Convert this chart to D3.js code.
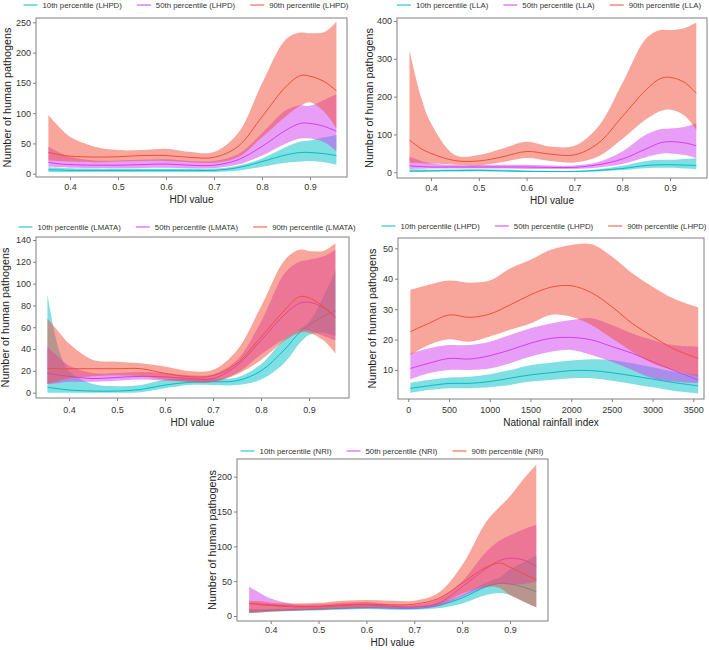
<!DOCTYPE html>
<html><head><meta charset="utf-8">
<script src="https://cdn.jsdelivr.net/npm/d3@7"></script>
<style>
body{margin:0;background:#fff}
svg{display:block}
text{font-family:"Liberation Sans",Arial,Helvetica,sans-serif}
</style>
</head><body>
<svg id="chart" width="709" height="650"></svg>
<script>
// ---------- DATA ----------
const hdiX = [0.355,0.38,0.40,0.45,0.50,0.55,0.60,0.65,0.70,0.75,0.80,0.85,0.88,0.90,0.93,0.955];
const rainX = [25,250,500,750,1000,1250,1500,1750,2000,2250,2500,2750,3000,3250,3560];

const hdiTicks = [0.4,0.5,0.6,0.7,0.8,0.9];
const rainTicks = [0,500,1000,1500,2000,2500,3000,3500];

// Panel A: LHPD vs HDI
const lhpdP10   = [6.6,6,5.5,5.5,5.5,5.5,5.5,5.5,5.5,10,20,31,35,35,33,30];
const lhpdP10Lo = [3,3,3,3,3,3,3,3,3,5,11.5,18,20,21,19,15];
const lhpdP10Hi = [10.5,9.5,9,8,8,8,8,8,8,13,25,44,53,55,60,64];
const lhpdP50   = [18.7,16,15,14,14,15,16,14,14,23,45,72,83,83,78,70];
const lhpdP50Lo = [11.5,10.5,10,9,9,9.5,10,9,9,15,30,50,58,58,52,37];
const lhpdP50Hi = [45,34,28,22,22,23,23.7,21,21,32,67,105,113,112,122,131];
const lhpdP90   = [35,31,29,27.5,28,30,30,27,27,45,94,144,162,161,152,137];
const lhpdP90Lo = [22,21,20,19,20,21,21,19,18,27,60,95,112,118,102,75];
const lhpdP90Hi = [97,75,61,45,39,39,41,36,36,67,149,222,233,232,234,251];
const lhpdYTicks = [0,50,100,150,200,250];

// Panel B: LLA vs HDI
const llaP10   = [3,3.5,4,4.5,5,4,2.5,2,2,5,10,18,20,20,19,18];
const llaP10Lo = [1,1,1.5,2,3,2,1,1,1,2,6,11,12,12,10,8];
const llaP10Hi = [8,7.5,7,7.5,8,7,5,4,4,8,17,30,33,33,35,37];
const llaP50   = [17,15,14,14,14,14,14,13,13,20,35,62,78,81,78,70];
const llaP50Lo = [9,9.5,10,10,10,10,9,9,9,13,22,40,49,50,46,38];
const llaP50Hi = [42,30,24,19,19,20,20,18,18,27,55,100,114,116,120,130];
const llaP90   = [85,62,50,31,30,41,55,48,46,77,147,218,248,251,238,209];
const llaP90Lo = [25,24,23,20,18,27,38,30,26,42,88,140,162,166,150,112];
const llaP90Hi = [323,195,130,46,46,63,81,68,70,121,235,354,376,376,381,396];
const llaYTicks = [0,100,200,300,400];

// Panel C: LMATA vs HDI
const lmataP10   = [5,3.5,2.5,1.5,1.5,3,7,9.5,10,11,20,40,55,62,70,75];
const lmataP10Lo = [0,0,0,0,0,0.5,4,7,7,7,12,28,45,53,55,52];
const lmataP10Hi = [90,38,20,8,6,7,12,13,13,14,26,50,58,65,88,112];
const lmataP50   = [18,16,15,13,14,15,14.5,13,13,25,48,72,82,83,78,69];
const lmataP50Lo = [8,9,10,10,11,12,11,10,10,18,35,50,57,57,52,48];
const lmataP50Hi = [42,32,25,18,18,19,18,16,17,30,65,110,120,122,125,131];
const lmataP90   = [22.3,22,22,22,22,22,17.7,14.7,15.6,27,51,76,88,87,79,69];
const lmataP90Lo = [8,11,13,15,16,15,12,10,10,17,30,48,55,55,48,36];
const lmataP90Hi = [68,55,45,30,28.4,27,24,20,21,39,79,122,131,130,130,137];
const lmataYTicks = [0,20,40,60,80,100,120,140];

// Panel D: LHPD vs National rainfall index
const rainP10   = [4,4.8,5.6,5.6,6.2,7.3,8.4,9.1,9.8,9.8,9.1,8.1,7,5.9,4.8];
const rainP10Lo = [2.5,3.4,4,4,4.3,5.1,6.2,6.7,7.3,7.3,6.5,5.4,4.3,3.2,2.3];
const rainP10Hi = [5.8,6.7,7.5,7.8,8.6,10,11.6,12.4,13.1,13.5,13.3,12.2,10.9,9.5,8.4];
const rainP50   = [10.5,12.2,13.8,13.6,14.7,16.6,18.8,20.4,20.7,19.9,17.7,15.5,12.7,10,6.7];
const rainP50Lo = [6.9,8.9,10,10,10.5,12.2,14.4,16,16.6,14.9,12.7,10,7.3,6.2,5.6];
const rainP50Hi = [15.5,17.1,18.2,18.2,19.3,21.5,23.7,25.3,26.4,27,24.8,22,19.9,18.2,17.7];
const rainP90   = [22.6,25.3,28.1,27.3,28.4,31.4,34.7,37.2,37.7,35.4,30.8,25.3,21,17.1,13.8];
const rainP90Lo = [14.9,18.2,20.1,19.3,21,23.2,25.3,28.1,27.5,24.8,20.4,16,12.2,10,7.8];
const rainP90Hi = [36.3,38,39.4,38.7,39.4,43.4,46.2,49.5,51.1,51.3,47.3,41.8,37.4,33.6,30.6];
const rainYTicks = [10,20,30,40,50];

// Panel E: NRI vs HDI
const nriP10   = [7,7.5,8,9,10,11,12,11.5,11,15,26,42,47,46,41,35];
const nriP10Lo = [4,5,6,7,8,9,10,9,9,11,18,30,33,30,20,13];
const nriP10Hi = [10,10,10,11,12,14,15,14,14,18,30,48,56,67,78,87];
const nriP50   = [18,16,15,13,13,15,16,14,13,18,42,68,80,83,80,71];
const nriP50Lo = [5,6,7,8,9,10,11,10,10,14,28,42,46,45,46,49];
const nriP50Hi = [42,32,25,17,17,19,20,17,16,24,50,92,109,116,125,131];
const nriP90   = [18,17,16,14,14,16,17,16,17,25,47,70,76,70,60,52];
const nriP90Lo = [4,5,6,8,9,11,12,12,12,16,32,42,40,30,20,12];
const nriP90Hi = [22,21,19,18,19,22,23,22,22,33,73,135,158,172,198,217];
const nriYTicks = [0,50,100,150,200];

// ---------- LAYOUT ----------
const COLORS = ["#00BFC6","#D23EF0","#F24E38"];
const svg = d3.select("#chart");

function series(x, arrs){
  return arrs.map(([m,lo,hi]) => x.map((v,i)=>({x:v,m:m[i],lo:lo[i],hi:hi[i]})));
}

const panels = [
  {name:"LHPD", xTitle:"HDI value", xTicks:hdiTicks, yTicks:lhpdYTicks, xFmt:d3.format(".1f"),
   box:{l:36,t:18,r:347,b:177}, xd:[0.4,0.9], xr:[70,310], yd:[0,250], yr:[173.7,22.3],
   legY:5, legCx:186, yTitleX:7, xLabY:187, xTitleY:199,
   data:series(hdiX,[[lhpdP10,lhpdP10Lo,lhpdP10Hi],[lhpdP50,lhpdP50Lo,lhpdP50Hi],[lhpdP90,lhpdP90Lo,lhpdP90Hi]])},
  {name:"LLA", xTitle:"HDI value", xTicks:hdiTicks, yTicks:llaYTicks, xFmt:d3.format(".1f"),
   box:{l:397,t:18,r:707,b:178}, xd:[0.4,0.9], xr:[431,670], yd:[0,400], yr:[172.3,21],
   legY:5, legCx:549, yTitleX:369, xLabY:188, xTitleY:200,
   data:series(hdiX,[[llaP10,llaP10Lo,llaP10Hi],[llaP50,llaP50Lo,llaP50Hi],[llaP90,llaP90Lo,llaP90Hi]])},
  {name:"LMATA", xTitle:"HDI value", xTicks:hdiTicks, yTicks:lmataYTicks, xFmt:d3.format(".1f"),
   box:{l:36,t:237,r:349,b:398}, xd:[0.4,0.9], xr:[69,309], yd:[0,140], yr:[392.7,240],
   legY:227, legCx:187, yTitleX:5, xLabY:410, xTitleY:422,
   data:series(hdiX,[[lmataP10,lmataP10Lo,lmataP10Hi],[lmataP50,lmataP50Lo,lmataP50Hi],[lmataP90,lmataP90Lo,lmataP90Hi]])},
  {name:"LHPD", xTitle:"National rainfall index", xTicks:rainTicks, yTicks:rainYTicks, xFmt:d3.format("d"),
   box:{l:398,t:238,r:704,b:399}, xd:[0,3500], xr:[408.3,693.3], yd:[10,50], yr:[370,248.3],
   legY:226, legCx:544, yTitleX:372, xLabY:410, xTitleY:422,
   data:series(rainX,[[rainP10,rainP10Lo,rainP10Hi],[rainP50,rainP50Lo,rainP50Hi],[rainP90,rainP90Lo,rainP90Hi]])},
  {name:"NRI", xTitle:"HDI value", xTicks:hdiTicks, yTicks:nriYTicks, xFmt:d3.format(".1f"),
   box:{l:237,t:459,r:548,b:621}, xd:[0.4,0.9], xr:[270.7,510], yd:[0,200], yr:[616,476.7],
   legY:451, legCx:392, yTitleX:212, xLabY:630, xTitleY:642,
   data:series(hdiX,[[nriP10,nriP10Lo,nriP10Hi],[nriP50,nriP50Lo,nriP50Hi],[nriP90,nriP90Lo,nriP90Hi]])}
];

const pct = ["10th","50th","90th"];

panels.forEach(p=>{
  const g = svg.append("g");
  const xs = d3.scaleLinear().domain(p.xd).range(p.xr);
  const ys = d3.scaleLinear().domain(p.yd).range(p.yr);
  const curve = d3.curveCatmullRom.alpha(0.5);
  const area = d3.area().x(d=>xs(d.x)).y0(d=>ys(d.lo)).y1(d=>ys(d.hi)).curve(curve);
  const line = d3.line().x(d=>xs(d.x)).y(d=>ys(d.m)).curve(curve);

  p.data.forEach((s,i)=>{
    g.append("path").attr("d",area(s)).attr("fill",COLORS[i]).attr("fill-opacity",0.5).attr("stroke","none");
    g.append("path").attr("d",line(s)).attr("fill","none").attr("stroke",COLORS[i]).attr("stroke-width",1);
  });

  const b = p.box;
  g.append("rect").attr("x",b.l).attr("y",b.t).attr("width",b.r-b.l).attr("height",b.b-b.t)
    .attr("fill","none").attr("stroke","#808080").attr("stroke-width",1);

  const ya = g.append("g").attr("transform",`translate(${b.l},0)`)
    .call(d3.axisLeft(ys).tickValues(p.yTicks).tickSize(3).tickPadding(2).tickFormat(d3.format("d")));
  ya.select(".domain").remove();
  ya.selectAll("line").attr("stroke","#808080");
  ya.selectAll("text").attr("font-size",9).attr("fill","#333").attr("font-family","Liberation Sans, Arial, sans-serif");

  const xa = g.append("g").attr("transform",`translate(0,${b.b})`)
    .call(d3.axisBottom(xs).tickValues(p.xTicks).tickSize(3).tickFormat(p.xFmt));
  xa.select(".domain").remove();
  xa.selectAll("line").attr("stroke","#808080");
  xa.selectAll("text").attr("font-size",9).attr("fill","#333").attr("font-family","Liberation Sans, Arial, sans-serif")
    .attr("y", p.xLabY - b.b).attr("dy","0.35em");

  g.append("text").attr("x",(b.l+b.r)/2).attr("y",p.xTitleY).attr("dy","0.35em")
    .attr("text-anchor","middle").attr("font-size",10).attr("fill","#222").text(p.xTitle);
  g.append("text").attr("transform",`translate(${p.yTitleX},${(b.t+b.b)/2}) rotate(-90)`)
    .attr("dy","0.35em").attr("text-anchor","middle").attr("font-size",10.8).attr("fill","#222")
    .text("Number of human pathogens");

  const lg = g.append("g");
  let cx = 0;
  pct.forEach((t,i)=>{
    const it = lg.append("g");
    it.append("line").attr("x1",0).attr("x2",14).attr("y1",0).attr("y2",0).attr("stroke",COLORS[i]).attr("stroke-width",1);
    const tx = it.append("text").attr("x",19).attr("dy","0.35em").attr("font-size",7.8).attr("fill","#333")
      .text(`${t} percentile (${p.name})`);
    const w = 19 + tx.node().getComputedTextLength();
    it.attr("transform",`translate(${cx},${p.legY})`);
    cx += w + 15;
  });
  const total = cx - 15;
  lg.attr("transform",`translate(${p.legCx - total/2},0)`);
});
</script>
</body></html>
